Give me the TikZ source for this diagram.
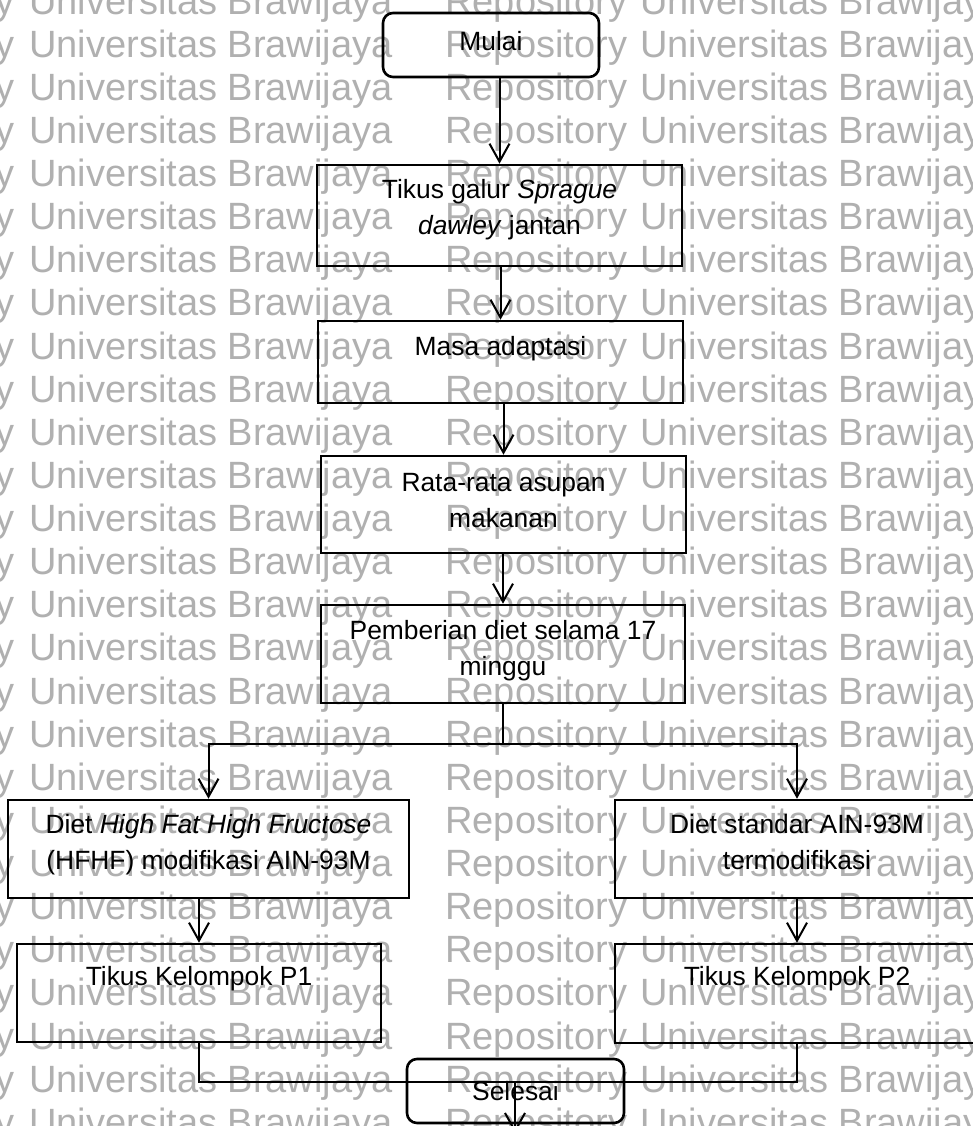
\documentclass[tikz,border=0pt]{standalone}
\usepackage{fontspec}
\setmainfont{Liberation Sans}
\usetikzlibrary{arrows.meta,calc}
\begin{document}
\begin{tikzpicture}[x=0.5pt,y=-0.5pt,
  wm/.style={inner sep=0pt, text=black!31, font=\fontsize{19}{20}\selectfont},
  box/.style={draw, line width=1.3pt, inner sep=0pt},
  term/.style={box, rounded corners=5pt},
  lbl/.style={inner sep=0pt, anchor=base, font=\fontsize{13.2}{18}\selectfont},
  conn/.style={line width=1pt},
  arr/.style={conn, -{Straight Barb[length=9pt,width=10pt]}}
]
\useasboundingbox (0,0) rectangle (973,1126);
\clip (0,0) rectangle (973,1126);
\fill[white] (0,0) rectangle (973,1126);

% watermark
\foreach \k in {0,...,26} {
  \pgfmathsetmacro\yy{14+43.125*\k}
  \node[wm, anchor=base east] (wa\k) at (15,\yy) {Repository};
  \node[wm, anchor=base west] (wb\k) at (29,\yy) {Universitas Brawijaya};
  \node[wm, anchor=base west] (wc\k) at (445,\yy) {Repository};
  \node[wm, anchor=base west] (wd\k) at (640,\yy) {Universitas Brawijaya};
}

% boxes
\node[term, minimum width=108pt, minimum height=32pt] (mulai) at (491,45) {};
\node[box, minimum width=182.5pt, minimum height=50.5pt] (tikus) at (499.5,215.5) {};
\node[box, minimum width=182.5pt, minimum height=41pt] (masa) at (500.5,362) {};
\node[box, minimum width=182.5pt, minimum height=48.5pt] (rata) at (503.5,504.5) {};
\node[box, minimum width=182pt, minimum height=49pt] (pemb) at (503,654) {};
\node[box, minimum width=200.5pt, minimum height=49pt] (hfhf) at (208.5,849) {};
\node[box, minimum width=182pt, minimum height=49pt] (std) at (797,849) {};
\node[box, minimum width=182pt, minimum height=49pt] (p1) at (199,993) {};
\node[box, minimum width=182pt, minimum height=49.5pt] (p2) at (797,993.5) {};
\node[term, minimum width=108.5pt, minimum height=32pt] (selesai) at (515.5,1091) {};

% labels
\node[lbl] (tmulai) at ($(mulai.north)+(0,39)$) {Mulai};
\node[lbl] (ttikus) at ($(tikus.north)+(0,35)$) {\begin{tabular}[t]{@{}c@{}}Tikus galur \textit{Sprague}\\\textit{dawley} jantan\end{tabular}};
\node[lbl] (tmasa) at ($(masa.north)+(0,36)$) {Masa adaptasi};
\node[lbl] (trata) at ($(rata.north)+(0,37)$) {\begin{tabular}[t]{@{}c@{}}Rata-rata asupan\\makanan\end{tabular}};
\node[lbl] (tpemb) at ($(pemb.north)+(0,36)$) {\begin{tabular}[t]{@{}c@{}}Pemberian diet selama 17\\minggu\end{tabular}};
\node[lbl] (thfhf) at ($(hfhf.north)+(0,35)$) {\begin{tabular}[t]{@{}c@{}}Diet \textit{High Fat High Fructose}\\(HFHF) modifikasi AIN-93M\end{tabular}};
\node[lbl] (tstd) at ($(std.north)+(0,35)$) {\begin{tabular}[t]{@{}c@{}}Diet standar AIN-93M\\termodifikasi\end{tabular}};
\node[lbl] (tp1) at ($(p1.north)+(0,43)$) {Tikus Kelompok P1};
\node[lbl] (tp2) at ($(p2.north)+(0,43)$) {Tikus Kelompok P2};
\node[lbl] (tselesai) at ($(selesai.north)+(0,43)$) {Selesai};

% connectors
\draw[arr] (tikus.north |- mulai.south) -- (tikus.north);
\draw[arr] (masa.north |- tikus.south) -- (masa.north);
\draw[arr] (rata.north |- masa.south) -- (rata.north);
\draw[arr] (pemb.north |- rata.south) -- (pemb.north);
\coordinate (split) at (503,744);
\draw[conn] (pemb.south) -- (split);
\draw[arr] (split) -| (hfhf.north);
\draw[arr] (split) -| (std.north);
\draw[arr] (p1.north |- hfhf.south) -- (p1.north);
\draw[arr] (std.south) -- (p2.north);
\coordinate (join) at (515,1082);
\draw[conn] (p1.south) |- (join) -| (p2.south);
\coordinate (out) at (515,1133);
\draw[arr] (join) -- (out);
\end{tikzpicture}
\end{document}
